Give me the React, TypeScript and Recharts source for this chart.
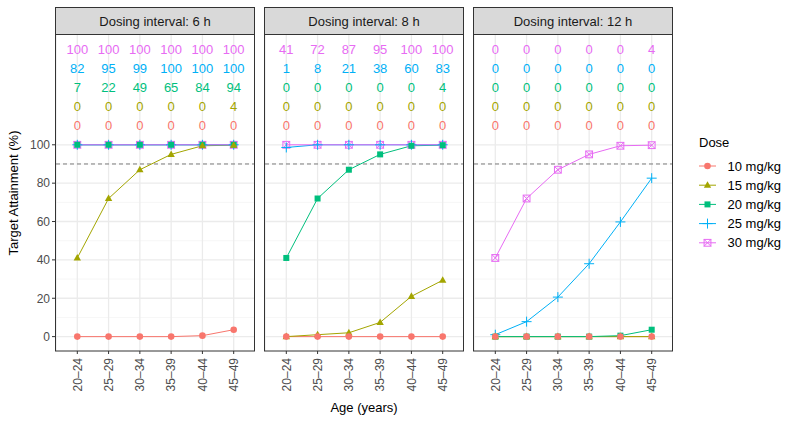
import React from "react";
import {
  LineChart,
  Line,
  XAxis,
  YAxis,
  CartesianGrid,
  ReferenceLine,
} from "recharts";

const ageGroups = ["20–24", "25–29", "30–34", "35–39", "40–44", "45–49"];
const doses = ["10 mg/kg", "15 mg/kg", "20 mg/kg", "25 mg/kg", "30 mg/kg"];
const intervals = ["6 h", "8 h", "12 h"];
const doseColors = ["#F8766D", "#A3A500", "#00BF7D", "#00B0F6", "#E76BF3"];

// target attainment (%), one row per dose (10 -> 30 mg/kg)
const attain6h = [
  [0, 0, 0, 0, 0.5, 3.6],
  [41, 72, 87, 95, 99.5, 99.8],
  [100, 100, 100, 100, 100, 100],
  [100, 100, 100, 100, 100, 100],
  [100, 100, 100, 100, 100, 100],
];
const attain8h = [
  [0, 0, 0, 0, 0, 0],
  [0, 1, 2, 7.4, 21, 29.4],
  [41, 72, 87, 95, 99.5, 99.8],
  [98.6, 100, 100, 100, 100, 100],
  [100, 100, 100, 100, 100, 100],
];
const attain12h = [
  [0, 0, 0, 0, 0, 0],
  [0, 0, 0, 0, 0, 0],
  [0, 0, 0, 0, 0.5, 3.6],
  [1, 7.8, 20.6, 38, 59.8, 82.6],
  [41, 72, 87, 95, 99.5, 99.8],
];

// printed numbers above the curves, same dose order
const text6h = [
  [0, 0, 0, 0, 0, 0],
  [0, 0, 0, 0, 0, 4],
  [7, 22, 49, 65, 84, 94],
  [82, 95, 99, 100, 100, 100],
  [100, 100, 100, 100, 100, 100],
];
const text8h = [
  [0, 0, 0, 0, 0, 0],
  [0, 0, 0, 0, 0, 0],
  [0, 0, 0, 0, 0, 4],
  [1, 8, 21, 38, 60, 83],
  [41, 72, 87, 95, 100, 100],
];
const text12h = [
  [0, 0, 0, 0, 0, 0],
  [0, 0, 0, 0, 0, 0],
  [0, 0, 0, 0, 0, 0],
  [0, 0, 0, 0, 0, 0],
  [0, 0, 0, 0, 0, 4],
];

// y level of each dose's row of numbers
const textLevels = [110, 120, 130, 140, 150];
const yTicks = [0, 20, 40, 60, 80, 100];
const yMinor = [10, 30, 50, 70, 90];

const attainByInterval = [attain6h, attain8h, attain12h];
const textByInterval = [text6h, text8h, text12h];

const FONT = "'Liberation Sans', Arial, Helvetica, sans-serif";
const PANEL_W = 199;
const PLOT_TOP = 34.5;
const PLOT_H = 316.5;
const Y_AXIS_W = 55;
const X_AXIS_H = 60;
const panelLefts = [55.5, 264.5, 473.5];

function buildRows(k: number) {
  return ageGroups.map((age, i) => {
    const row: any = { age };
    doses.forEach((_, d) => {
      row[`v${d}`] = attainByInterval[k][d][i];
      row[`t${d}`] = textByInterval[k][d][i];
      row[`y${d}`] = textLevels[d];
    });
    return row;
  });
}

function Marker({ shape, cx, cy, color }: any) {
  if (cx == null || cy == null) return null;
  switch (shape) {
    case 0:
      return <circle cx={cx} cy={cy} r={3.3} fill={color} />;
    case 1:
      return (
        <polygon
          points={`${cx},${cy - 4} ${cx - 3.7},${cy + 2.6} ${cx + 3.7},${cy + 2.6}`}
          fill={color}
        />
      );
    case 2:
      return <rect x={cx - 3} y={cy - 3} width={6} height={6} fill={color} />;
    case 3:
      return (
        <path
          d={`M${cx - 5},${cy}H${cx + 5}M${cx},${cy - 5}V${cy + 5}`}
          stroke={color}
          strokeWidth={1}
          fill="none"
        />
      );
    default:
      return (
        <g stroke={color} strokeWidth={1} fill="none">
          <rect x={cx - 3.4} y={cy - 3.4} width={6.8} height={6.8} />
          <path
            d={`M${cx - 3.4},${cy - 3.4}L${cx + 3.4},${cy + 3.4}M${cx + 3.4},${cy - 3.4}L${cx - 3.4},${cy + 3.4}`}
          />
        </g>
      );
  }
}

const AgeTick = (props: any) => {
  const { x, y, payload } = props;
  return (
    <g transform={`translate(${x},${y})`}>
      <text
        transform="rotate(-90)"
        x={-2}
        dy="0.35em"
        textAnchor="end"
        fontSize={12}
        fill="#4D4D4D"
      >
        {payload.value}
      </text>
    </g>
  );
};

function Panel({ k }: { k: number }) {
  const rows = buildRows(k);
  const showY = k === 0;
  const width = PANEL_W + (showY ? Y_AXIS_W : 0);
  const left = showY ? panelLefts[0] - Y_AXIS_W : panelLefts[k];

  return (
    <div style={{ position: "absolute", left, top: 0 }}>
      <LineChart
        width={width}
        height={PLOT_TOP + PLOT_H + X_AXIS_H}
        data={rows}
        margin={{ top: PLOT_TOP, right: 0, bottom: 0, left: 0 }}
      >
        <CartesianGrid
          horizontalValues={yMinor}
          vertical={false}
          stroke="#F2F2F2"
          strokeWidth={0.7}
        />
        <CartesianGrid
          horizontalValues={yTicks}
          stroke="#EBEBEB"
          strokeWidth={1.3}
        />
        <XAxis
          dataKey="age"
          scale="point"
          padding={{ left: 21.3, right: 21.3 }}
          interval={0}
          axisLine={false}
          tickSize={3}
          tickLine={{ stroke: "#333333" }}
          tick={<AgeTick />}
          height={X_AXIS_H}
        />
        <YAxis
          type="number"
          domain={[-7.5, 157.5]}
          ticks={yTicks}
          allowDataOverflow
          hide={!showY}
          width={Y_AXIS_W}
          axisLine={false}
          tickSize={4}
          tickMargin={2}
          tickLine={{ stroke: "#333333" }}
          tick={{ fontSize: 12, fill: "#4D4D4D" }}
        />
        <ReferenceLine
          y={90}
          stroke="#7A7A7A"
          strokeWidth={1}
          strokeDasharray="4 3"
        />
        {/* points first, 30 mg/kg at the bottom */}
        {doses
          .map((dose, d) => (
            <Line
              key={`pts-${dose}`}
              dataKey={`v${d}`}
              stroke="none"
              activeDot={false}
              isAnimationActive={false}
              dot={(p: any) => (
                <Marker
                  key={`m-${d}-${p.index}`}
                  shape={d}
                  cx={p.cx}
                  cy={p.cy}
                  color={doseColors[d]}
                />
              )}
            />
          ))
          .reverse()}
        {doses.map((dose, d) => (
          <Line
            key={`line-${dose}`}
            dataKey={`v${d}`}
            stroke={doseColors[d]}
            strokeWidth={1}
            dot={false}
            activeDot={false}
            isAnimationActive={false}
          />
        ))}
        {doses.map((dose, d) => (
          <Line
            key={`txt-${dose}`}
            dataKey={`y${d}`}
            stroke="none"
            activeDot={false}
            isAnimationActive={false}
            dot={(p: any) => (
              <text
                key={`t-${d}-${p.index}`}
                x={p.cx}
                y={p.cy}
                dy="0.36em"
                textAnchor="middle"
                fontSize={13}
                fill={doseColors[d]}
              >
                {p.payload[`t${d}`]}
              </text>
            )}
          />
        ))}
      </LineChart>
    </div>
  );
}

function Frame() {
  const legendTop = 166;
  const legendStep = 19.2;
  return (
    <svg
      width={790}
      height={422}
      style={{ position: "absolute", left: 0, top: 0, pointerEvents: "none" }}
    >
      {intervals.map((iv, k) => (
        <g key={iv}>
          <rect
            x={panelLefts[k]}
            y={7.5}
            width={PANEL_W}
            height={PLOT_TOP - 7.5}
            fill="#D9D9D9"
            stroke="#333333"
            strokeWidth={1}
          />
          <text
            x={panelLefts[k] + PANEL_W / 2}
            y={21}
            dy="0.35em"
            textAnchor="middle"
            fontSize={13}
            fill="#1A1A1A"
          >
            {`Dosing interval: ${iv}`}
          </text>
          <rect
            x={panelLefts[k]}
            y={PLOT_TOP}
            width={PANEL_W}
            height={PLOT_H}
            fill="none"
            stroke="#333333"
            strokeWidth={1}
          />
        </g>
      ))}
      <text
        transform="translate(13,193) rotate(-90)"
        dy="0.35em"
        textAnchor="middle"
        fontSize={13}
        fill="#000"
      >
        Target Attainment (%)
      </text>
      <text
        x={panelLefts[1] + PANEL_W / 2}
        y={407}
        dy="0.35em"
        textAnchor="middle"
        fontSize={13}
        fill="#000"
      >
        Age (years)
      </text>
      <text x={699} y={142} dy="0.35em" fontSize={13} fill="#000">
        Dose
      </text>
      {doses.map((dose, d) => {
        const cy = legendTop + d * legendStep;
        return (
          <g key={dose}>
            <line
              x1={699}
              x2={716}
              y1={cy}
              y2={cy}
              stroke={doseColors[d]}
              strokeWidth={1}
            />
            <Marker shape={d} cx={707.5} cy={cy} color={doseColors[d]} />
            <text x={727.5} y={cy} dy="0.35em" fontSize={13} fill="#000">
              {dose}
            </text>
          </g>
        );
      })}
    </svg>
  );
}

export default function App() {
  return (
    <div
      style={{
        position: "absolute",
        left: 0,
        top: 0,
        width: 790,
        height: 422,
        background: "#fff",
        fontFamily: FONT,
        overflow: "hidden",
      }}
    >
      {intervals.map((iv, k) => (
        <Panel key={iv} k={k} />
      ))}
      <Frame />
    </div>
  );
}
